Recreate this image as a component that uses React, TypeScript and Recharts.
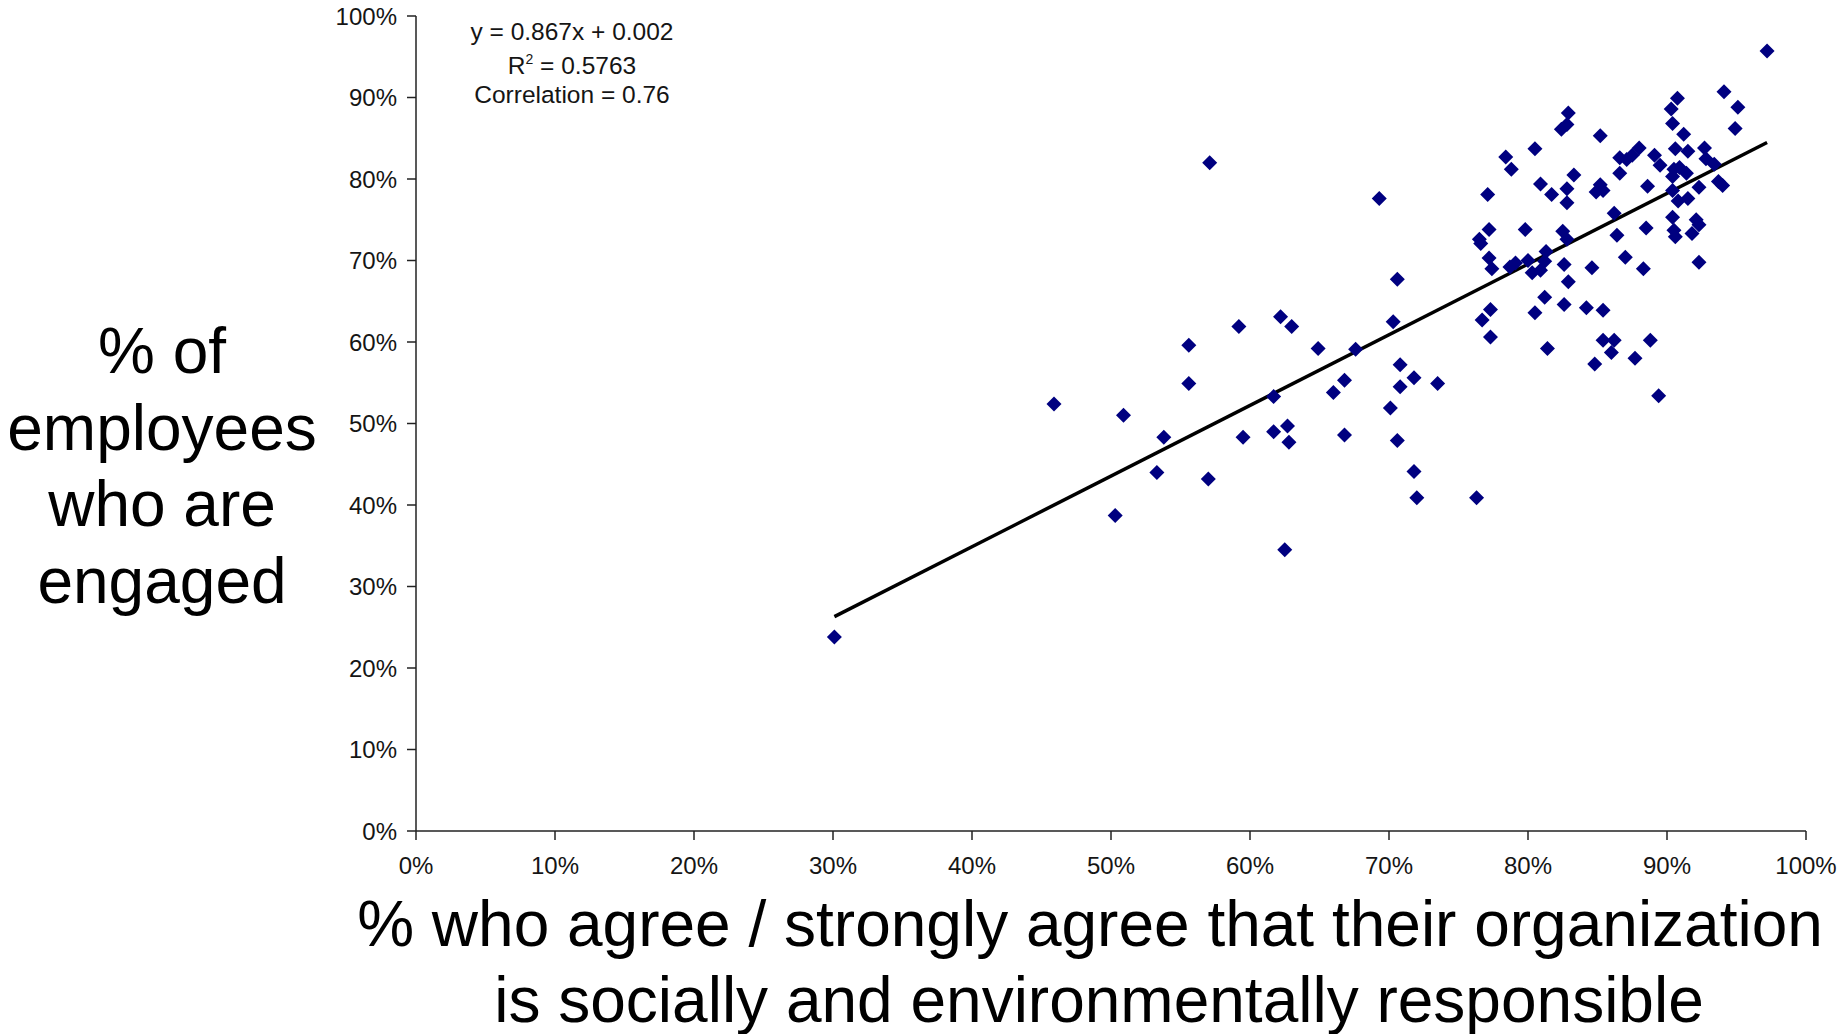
import React from 'react';
import {
  ScatterChart,
  Scatter,
  XAxis,
  YAxis,
  ReferenceLine,
} from 'recharts';

// % who agree their organization is socially/environmentally responsible
const agreePct = [
  30.1, 45.9, 50.3, 50.9, 53.3, 53.8, 55.6, 55.6, 57.0, 57.1, 59.2, 59.5,
  61.7, 61.7, 62.2, 63.0, 62.7, 62.8, 62.5, 64.9, 66.0, 66.8, 66.8, 67.6,
  69.3, 70.1, 70.6, 70.3, 70.8, 70.8, 71.8, 70.6, 71.8, 72.0, 73.5, 76.3,
  97.2, 94.1, 95.1, 94.9, 90.75, 90.3, 90.4, 91.2, 85.2, 82.9, 82.8, 82.4,
  80.5, 78.4, 78.8, 77.1, 80.9, 81.7, 83.3, 82.8, 82.8, 85.2, 84.9, 85.4,
  86.6, 87.1, 87.5, 88.0, 86.6, 88.6, 89.1, 89.5, 90.6, 91.5, 92.7, 92.8,
  93.4, 90.5, 90.9, 91.4, 90.4, 92.3, 93.7, 94.0, 90.4, 90.8, 91.5, 86.2,
  77.2, 76.5, 76.6, 79.8, 82.5, 82.8, 86.4, 88.5, 90.4, 92.1, 92.3, 90.5,
  90.6, 91.8, 77.2, 77.4, 78.7, 79.1, 80.0, 81.3, 81.2, 80.9, 80.3, 82.6,
  84.6, 87.0, 88.3, 92.3, 82.9, 81.2, 82.6, 84.2, 85.4, 77.3, 76.7, 80.5,
  77.3, 81.4, 85.4, 86.2, 86.0, 84.8, 87.7, 88.8, 89.4,
];

// % of employees who are engaged
const engagedPct = [
  23.8, 52.4, 38.7, 51.0, 44.0, 48.3, 59.6, 54.9, 43.2, 82.0, 61.9, 48.3,
  53.3, 49.0, 63.1, 61.9, 49.7, 47.7, 34.5, 59.2, 53.8, 55.3, 48.6, 59.1,
  77.6, 51.9, 67.7, 62.5, 57.2, 54.5, 55.6, 47.9, 44.1, 40.9, 54.9, 40.9,
  95.7, 90.7, 88.8, 86.2, 89.9, 88.6, 86.8, 85.5, 85.3, 88.1, 86.7, 86.1,
  83.7, 82.7, 81.2, 78.1, 79.4, 78.1, 80.5, 78.8, 77.1, 79.3, 78.4, 78.6,
  82.6, 82.4, 82.9, 83.8, 80.7, 79.1, 82.9, 81.7, 83.7, 83.4, 83.8, 82.5,
  81.8, 81.2, 81.4, 80.7, 80.3, 79.0, 79.7, 79.2, 78.6, 77.3, 77.6, 75.8,
  73.8, 72.6, 72.1, 73.8, 73.6, 72.6, 73.1, 74.0, 75.3, 75.0, 74.4, 73.7,
  72.9, 73.3, 70.3, 69.0, 69.2, 69.7, 70.0, 71.1, 69.9, 68.8, 68.5, 69.5,
  69.1, 70.4, 69.0, 69.8, 67.4, 65.5, 64.6, 64.2, 63.9, 64.0, 62.7, 63.6,
  60.6, 59.2, 60.2, 60.2, 58.7, 57.3, 58.0, 60.2, 53.4,
];

const pctTicks = [0, 10, 20, 30, 40, 50, 60, 70, 80, 90, 100];

// trend line y = 0.867x + 0.002 (fractions), here in percent
const slope = 0.867;
const intercept = 0.2;

const points = agreePct.map((x, i) => ({ x, y: engagedPct[i] }));
const xMin = Math.min(...agreePct);
const xMax = Math.max(...agreePct);

const font = '"Liberation Sans", Arial, Helvetica, sans-serif';
const tickStyle = { fontSize: 24, fill: '#151515', fontFamily: font };

const Diamond = (props: any) => {
  const { cx, cy } = props;
  const r = 7.5;
  return (
    <path
      d={`M${cx},${cy - r}L${cx + r},${cy}L${cx},${cy + r}L${cx - r},${cy}Z`}
      fill="#000080"
    />
  );
};

const eqLine: React.CSSProperties = {
  position: 'absolute',
  left: 0,
  width: 400,
  textAlign: 'center',
  fontSize: 24.5,
  lineHeight: '28px',
  color: '#151515',
};

const bigLine: React.CSSProperties = {
  position: 'absolute',
  width: 1800,
  textAlign: 'center',
  fontSize: 64,
  lineHeight: '76.5px',
  whiteSpace: 'nowrap',
  color: '#000',
};

export default function App() {
  return (
    <div
      style={{
        position: 'absolute',
        left: 0,
        top: 0,
        width: 1846,
        height: 1034,
        background: '#fff',
        fontFamily: font,
        overflow: 'hidden',
      }}
    >
      <ScatterChart
        width={1846}
        height={1034}
        margin={{ top: 16, right: 40, left: 0, bottom: 143 }}
      >
        <XAxis
          type="number"
          dataKey="x"
          domain={[0, 100]}
          ticks={pctTicks}
          tickFormatter={(v) => `${v}%`}
          height={60}
          tick={tickStyle}
          tickSize={9}
          tickMargin={17}
          axisLine={{ stroke: '#222', strokeWidth: 1.5 }}
          tickLine={{ stroke: '#222', strokeWidth: 1.5 }}
        />
        <YAxis
          type="number"
          dataKey="y"
          domain={[0, 100]}
          ticks={pctTicks}
          tickFormatter={(v) => `${v}%`}
          width={416}
          tick={tickStyle}
          tickSize={9}
          tickMargin={10}
          axisLine={{ stroke: '#222', strokeWidth: 1.5 }}
          tickLine={{ stroke: '#222', strokeWidth: 1.5 }}
        />
        <Scatter data={points} shape={<Diamond />} isAnimationActive={false} />
        <ReferenceLine
          segment={[
            { x: xMin, y: slope * xMin + intercept },
            { x: xMax, y: slope * xMax + intercept },
          ]}
          stroke="#000"
          strokeWidth={3.5}
          ifOverflow="visible"
        />
      </ScatterChart>

      <div style={{ position: 'absolute', left: 372, top: 0, width: 400, height: 120 }}>
        <div style={{ ...eqLine, top: 18 }}>y = 0.867x + 0.002</div>
        <div style={{ ...eqLine, top: 52 }}>
          R<span style={{ fontSize: 14, position: 'relative', top: -10 }}>2</span> = 0.5763
        </div>
        <div style={{ ...eqLine, top: 81 }}>Correlation = 0.76</div>
      </div>

      <div
        style={{
          position: 'absolute',
          left: 2,
          top: 313,
          width: 320,
          textAlign: 'center',
          fontSize: 64,
          lineHeight: '76.5px',
          color: '#000',
        }}
      >
        % of
        <br />
        employees
        <br />
        who are
        <br />
        engaged
      </div>

      <div style={{ ...bigLine, left: 1090 - 900, top: 886 }}>
        % who agree / strongly agree that their organization
      </div>
      <div style={{ ...bigLine, left: 1099 - 900, top: 962 }}>
        is socially and environmentally responsible
      </div>
    </div>
  );
}
